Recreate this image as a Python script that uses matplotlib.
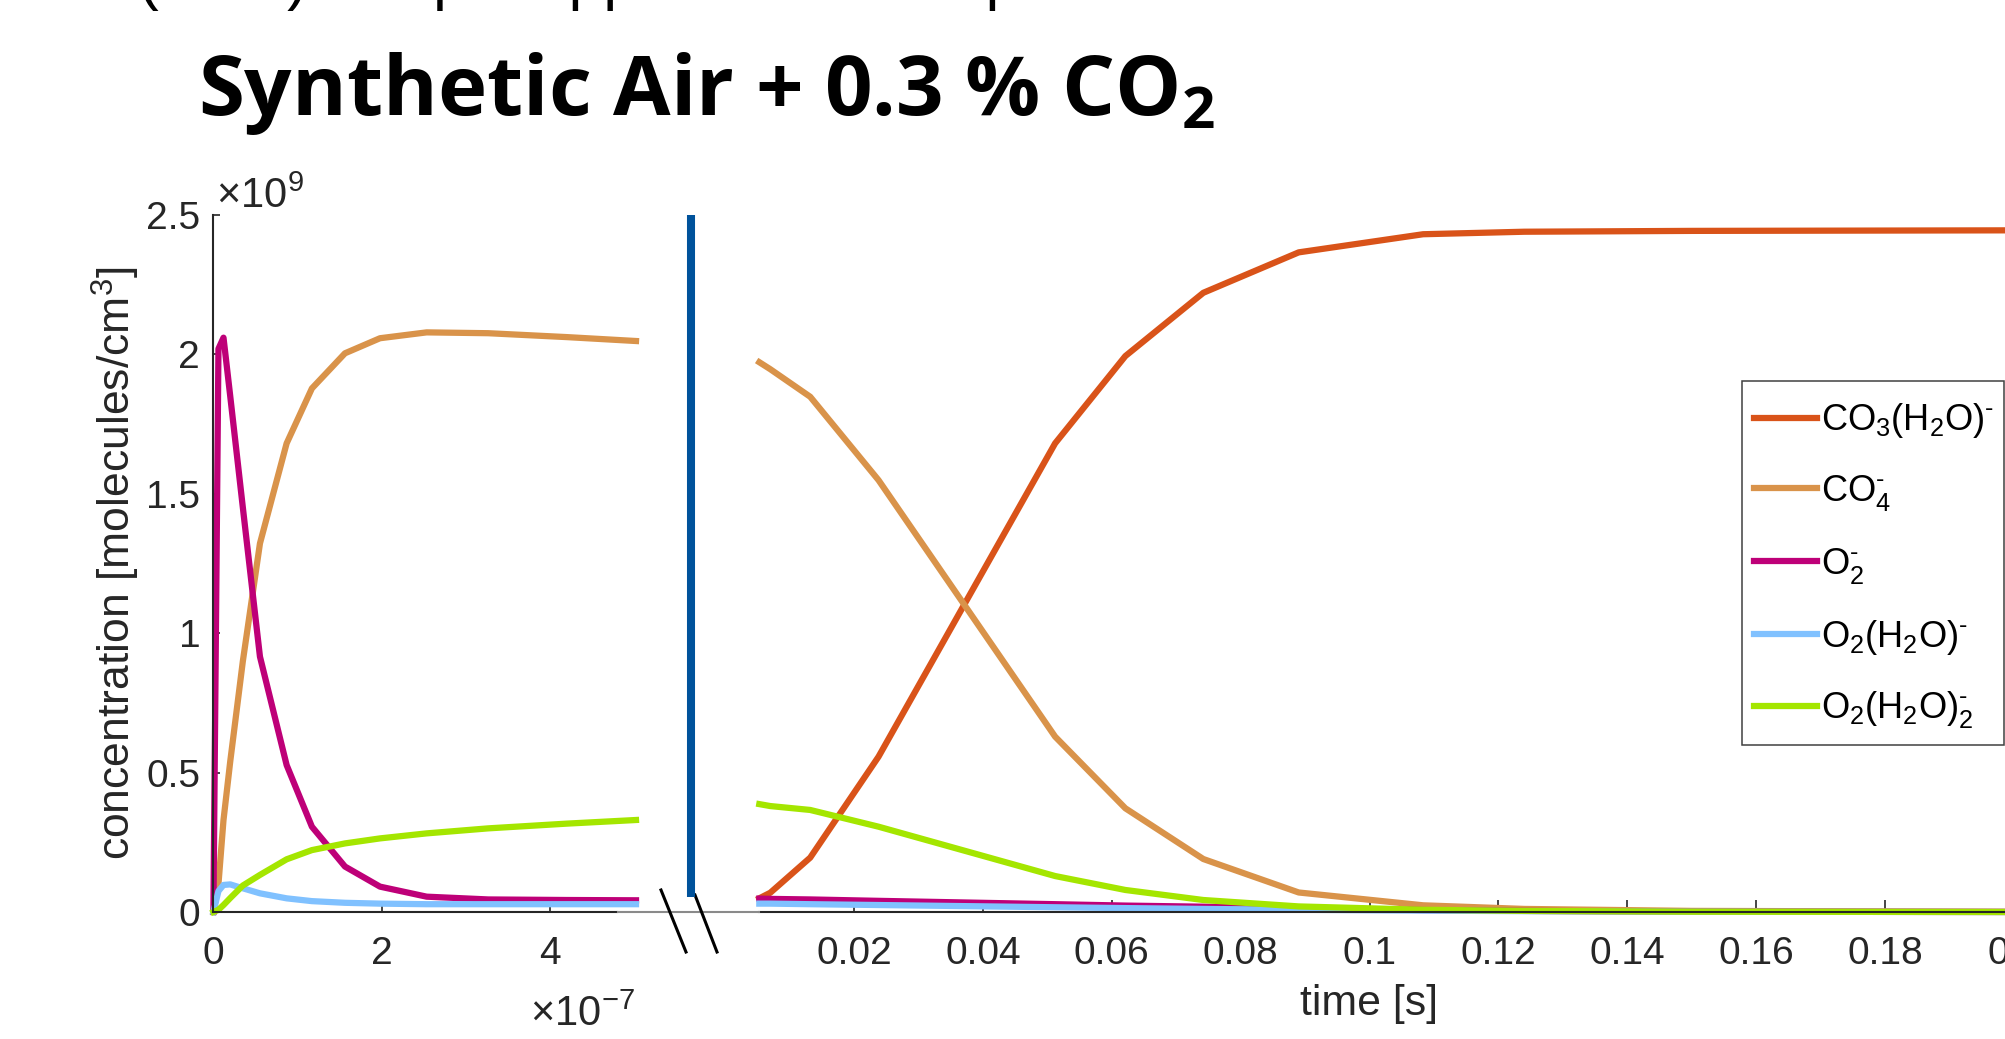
import matplotlib
matplotlib.use('Agg')
import matplotlib.pyplot as plt
from matplotlib.lines import Line2D
from matplotlib.patches import Rectangle

plt.rcParams['font.family'] = ['Liberation Sans', 'DejaVu Sans']
plt.rcParams['mathtext.fontset'] = 'custom'
plt.rcParams['mathtext.rm'] = 'Liberation Sans'
plt.rcParams['mathtext.it'] = 'Liberation Sans:italic'
plt.rcParams['mathtext.bf'] = 'Open Sans:bold'

# species and colours (legend order)
species = [r'$\mathrm{CO_3(H_2O)^{\text{-}}}$', r'$\mathrm{CO_4^{\text{-}}}$', r'$\mathrm{O_2^{\text{-}}}$',
           r'$\mathrm{O_2(H_2O)^{\text{-}}}$', r'$\mathrm{O_2(H_2O)_2^{\text{-}}}$']
colors = ['#D95319', '#D9934A', '#BE0078', '#80C1FF', '#A4E600']

# early times, units of 1e-7 s ; concentrations in 1e9 molecules/cm3
t_early = [0, 0.06, 0.12, 0.20, 0.35, 0.553, 0.87, 1.17, 1.563, 1.979, 2.533, 3.265, 4.2, 5.02]
co4_early = [0, 0.10, 0.33, 0.54, 0.90, 1.322, 1.681, 1.878, 2.004, 2.058, 2.079, 2.076, 2.062, 2.048]
o2_early = [0, 2.02, 2.06, 1.85, 1.45, 0.916, 0.527, 0.306, 0.163, 0.091, 0.055, 0.045, 0.043, 0.042]
o2h2o_early = [0, 0.075, 0.097, 0.099, 0.085, 0.067, 0.049, 0.039, 0.033, 0.030, 0.028, 0.028, 0.028, 0.028]
o2h2o2_early = [0, 0.008, 0.025, 0.05, 0.095, 0.133, 0.189, 0.222, 0.246, 0.264, 0.282, 0.300, 0.317, 0.330]

# late times in s
t_late = [0.0053, 0.0070, 0.0132, 0.0238, 0.0512, 0.0621, 0.0742, 0.0890, 0.1083, 0.1240, 0.1500, 0.2000, 0.2500]
co3_late = [0.049, 0.069, 0.195, 0.557, 1.681, 1.994, 2.221, 2.366, 2.431, 2.440, 2.443, 2.445, 2.445]
co4_late = [1.972, 1.947, 1.848, 1.549, 0.629, 0.372, 0.190, 0.070, 0.024, 0.011, 0.004, 0.001, 0.0]
o2_late = [0.048, 0.047, 0.045, 0.040, 0.028, 0.023, 0.019, 0.013, 0.007, 0.004, 0.001, 0.0, 0.0]
o2h2o_late = [0.030, 0.030, 0.028, 0.025, 0.017, 0.014, 0.011, 0.008, 0.005, 0.003, 0.001, 0.0, 0.0]
o2h2o2_late = [0.387, 0.380, 0.366, 0.306, 0.129, 0.079, 0.043, 0.020, 0.008, 0.004, 0.001, 0.0, 0.0]

yticks = [0, 0.5, 1, 1.5, 2, 2.5]
ylabels = ['0', '0.5', '1', '1.5', '2', '2.5']
xticks_early = [0, 2, 4]
xticks_late = [0.02, 0.04, 0.06, 0.08, 0.1, 0.12, 0.14, 0.16, 0.18, 0.2, 0.22, 0.24]
xlabels_late = ['0.02', '0.04', '0.06', '0.08', '0.1', '0.12', '0.14', '0.16', '0.18', '0.2', '0.22', '0.24']

W, H = 2005, 1039
fig = plt.figure(figsize=(W / 100, H / 100), dpi=100)
dark = '#262626'

def fx(px):
    return px / W

def fy(py):
    return 1 - py / H

# left panel (short times)
axL = fig.add_axes([fx(213.4), fy(912), 422.6 / W, 697 / H])
early = [None, co4_early, o2_early, o2h2o_early, o2h2o2_early]
for y, c in zip(early, colors):
    if y is None:
        continue
    axL.plot(t_early, y, color=c, lw=4.5, clip_on=False)
axL.set_xlim(0, 5.02)
axL.set_ylim(0, 2.5)
axL.set_xticks(xticks_early)
axL.set_xticklabels([str(v) for v in xticks_early])
axL.set_yticks(yticks)
axL.set_yticklabels(ylabels)
axL.spines['top'].set_visible(False)
axL.spines['right'].set_visible(False)
axL.spines['bottom'].set_bounds(0, 4.8)
for s in ['left', 'bottom']:
    axL.spines[s].set_color(dark)
    axL.spines[s].set_linewidth(1.5)
axL.tick_params(axis='x', direction='in', length=4, width=1.2, labelsize=28, colors=dark, pad=17)
axL.tick_params(axis='y', direction='in', length=5, width=1.2, labelsize=28, colors=dark, pad=9.5)

# right panel (long times)
axR = fig.add_axes([fx(759.3), fy(912), 1577 / W, 697 / H])
late = [co3_late, co4_late, o2_late, o2h2o_late, o2h2o2_late]
handles = []
for y, c in zip(late, colors):
    ln, = axR.plot(t_late, y, color=c, lw=4.5, clip_on=False)
    handles.append(ln)
axR.set_xlim(0.0053, 0.25)
axR.set_ylim(0, 2.5)
axR.set_xticks(xticks_late)
axR.set_xticklabels(xlabels_late)
axR.set_yticks([])
for s in ['top', 'right', 'left']:
    axR.spines[s].set_visible(False)
axR.spines['bottom'].set_color(dark)
axR.spines['bottom'].set_linewidth(1.5)
axR.tick_params(axis='x', direction='in', length=9, width=1.2, labelsize=28, colors=dark, pad=17)

# axis break: grey joining line, break marks and blue bar
fig.add_artist(Line2D([fx(618), fx(759)], [fy(911.5), fy(911.5)], color='#8a8a8a', lw=1.5))
fig.add_artist(Line2D([fx(661), fx(686)], [fy(890), fy(952)], color='black', lw=2.2))
fig.add_artist(Line2D([fx(695), fx(717)], [fy(895), fy(952)], color='black', lw=2.2))
fig.add_artist(Line2D([fx(691), fx(691)], [fy(215), fy(897)], color='#00529B', lw=5.8,
                      solid_capstyle='butt'))

# labels
fig.text(fx(116), fy(563.5), 'concentration [molecules/cm$^3$]', rotation=90,
         ha='center', va='center', fontsize=32, color=dark)
fig.text(fx(1369), fy(1004), 'time [s]', ha='center', va='center', fontsize=30.8, color=dark)
fig.text(fx(216), fy(208), r'$\times10^{9}$', fontsize=30, va='baseline', color=dark)
fig.text(fx(530), fy(1026), r'$\times10^{-7}$', fontsize=30, va='baseline', color=dark)

# titles
fig.text(fx(198), fy(115), r'Synthetic Air + 0.3 % CO$_{\mathbf{2}}$', fontsize=60,
         fontweight='bold', family='Open Sans', va='baseline', color='black')
fig.text(fx(138), fy(-2), '(CO2) Simple approach to the plasma', fontsize=45,
         va='baseline', color='black')

# legend: frame drawn by hand so the padding can differ horizontally / vertically
fig.add_artist(Rectangle((fx(1742), fy(745)), fx(2003.5) - fx(1742), fy(381) - fy(745),
                         transform=fig.transFigure, fill=True, facecolor='white',
                         edgecolor='#404040', lw=1.1, zorder=4))
leg = fig.legend(handles, species, loc='center left', bbox_to_anchor=(fx(1754), fy(566)),
                 fontsize=26, frameon=False, handlelength=1.75, handletextpad=0.1,
                 labelspacing=0.9, borderpad=0, borderaxespad=0)
leg.set_zorder(5)

fig.savefig('out.png', dpi=100)
